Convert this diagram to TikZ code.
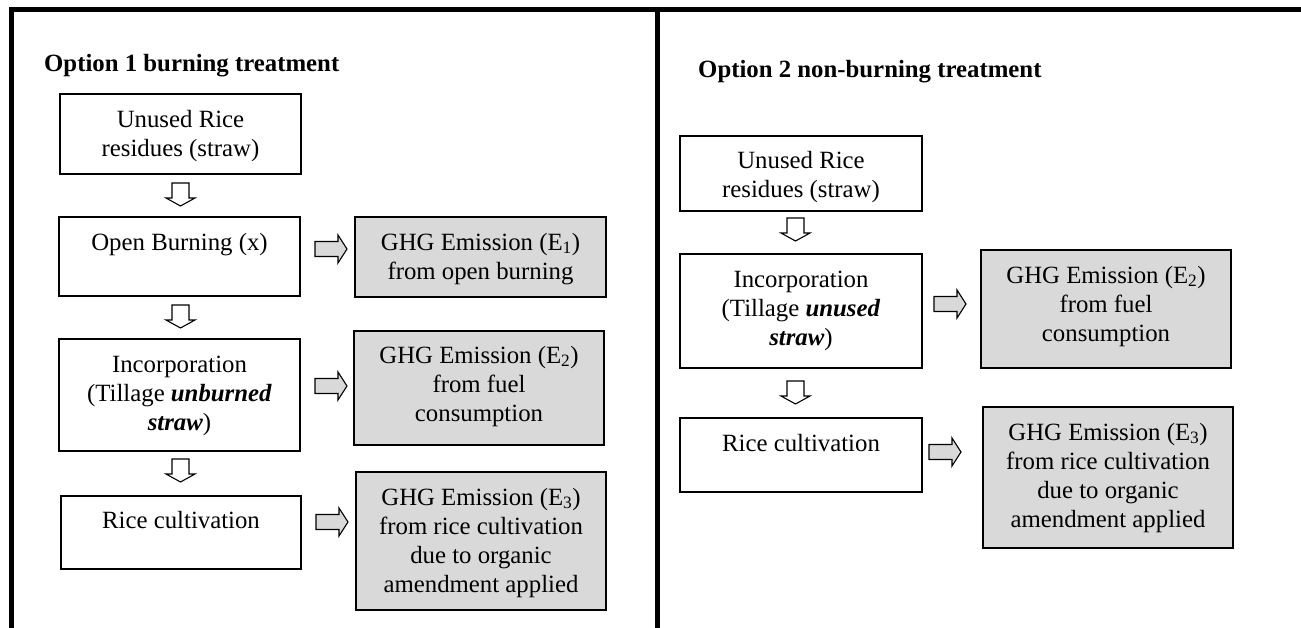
\documentclass[tikz,border=0pt]{standalone}
\usepackage{fontspec}
\setmainfont{Liberation Serif}
\usetikzlibrary{calc}
\definecolor{boxgray}{HTML}{D9D9D9}
\tikzset{
  wbox/.style={draw=black, line width=1.3pt, fill=white, inner sep=0pt, outer sep=0pt},
  gbox/.style={draw=black, line width=1.3pt, fill=boxgray, inner sep=0pt, outer sep=0pt},
  txtnode/.style={anchor=north, inner sep=0pt, align=center, font=\fontsize{24.8}{29}\selectfont},
  ttl/.style={anchor=base west, inner sep=0pt, font=\fontsize{24.8}{29}\selectfont\bfseries},
  dnarrow/.style={draw=black, line width=1.1pt, fill=white, line join=miter},
  rtarrow/.style={draw=black, line width=1.1pt, fill=boxgray, line join=miter},
}
\newcommand\DownArr[1]{\draw[dnarrow] #1 ++(-8.5,0) -- ++(17,0) -- ++(0,15) -- ++(6,0) -- ++(-14.5,8) -- ++(-14.5,-8) -- ++(6,0) -- cycle;}
\newcommand\RightArr[1]{\draw[rtarrow] #1 ++(0,-7.5) -- ++(23,0) -- ++(0,-6.5) -- ++(9,14) -- ++(-9,14) -- ++(0,-6.5) -- ++(-23,0) -- cycle;}
\begin{document}
\begin{tikzpicture}[x=1pt, y=-1pt]
\useasboundingbox (0,0) rectangle (1301,628);
% frame
\draw[line width=5pt] (11.5,628) -- (11.5,9.5) -- (1301,9.5);
\draw[line width=5pt] (657,9.5) -- (657,628);

% titles
\node[ttl] (title1) at (44,72) {Option 1 burning treatment};
\node[ttl] (title2) at (698,78) {Option 2 non-burning treatment};

% left panel boxes
\node[wbox, minimum width=241pt, minimum height=80pt] (b1) at (180.5,134) {};
\node[wbox, minimum width=241pt, minimum height=79pt] (b2) at (179.5,256.5) {};
\node[wbox, minimum width=241pt, minimum height=112pt] (b3) at (179.5,395) {};
\node[wbox, minimum width=240pt, minimum height=73pt] (b4) at (181,532.5) {};
\node[gbox, minimum width=251pt, minimum height=80pt] (e1) at (480.5,257) {};
\node[gbox, minimum width=250pt, minimum height=114pt] (e2) at (479,388) {};
\node[gbox, minimum width=250pt, minimum height=138pt] (e3) at (481,541) {};

\node[txtnode] (tb1) at ($(b1.north)+(0,12.7)$) {\strut Unused Rice\\residues (straw)};
\node[txtnode] (tb2) at ($(b2.north)+(0,12.7)$) {\strut Open Burning (x)};
\node[txtnode] (tb3) at ($(b3.north)+(0,12.7)$) {\strut Incorporation\\(Tillage \textbf{\textit{unburned}}\\\textbf{\textit{straw}})};
\node[txtnode] (tb4) at ($(b4.north)+(0,11.7)$) {\strut Rice cultivation};
\node[txtnode] (te1) at ($(e1.north)+(0,12.7)$) {\strut GHG Emission (E\textsubscript{1})\\from open burning};
\node[txtnode] (te2) at ($(e2.north)+(0,11.7)$) {\strut GHG Emission (E\textsubscript{2})\\from fuel\\consumption};
\node[txtnode] (te3) at ($(e3.north)+(0,12.7)$) {\strut GHG Emission (E\textsubscript{3})\\from rice cultivation\\due to organic\\amendment applied};

\DownArr{($(b1.south)+(0,9)$)}
\DownArr{($(b2.south)+(1,9)$)}
\DownArr{($(b3.south)+(1,8)$)}
\RightArr{($(b2.north east)+(15,32)$)}
\RightArr{($(b3.north east)+(15,47)$)}
\RightArr{($(b4.north east)+(15,26)$)}

% right panel boxes
\node[wbox, minimum width=242pt, minimum height=75pt] (r1) at (801,173.5) {};
\node[wbox, minimum width=242pt, minimum height=114pt] (r2) at (801,311) {};
\node[wbox, minimum width=242pt, minimum height=74pt] (r3) at (801,455) {};
\node[gbox, minimum width=250pt, minimum height=118pt] (f2) at (1106,309) {};
\node[gbox, minimum width=250pt, minimum height=141pt] (f3) at (1108,477.5) {};

\node[txtnode] (tr1) at ($(r1.north)+(0,11.7)$) {\strut Unused Rice\\residues (straw)};
\node[txtnode] (tr2) at ($(r2.north)+(0,12.7)$) {\strut Incorporation\\(Tillage \textbf{\textit{unused}}\\\textbf{\textit{straw}})};
\node[txtnode] (tr3) at ($(r3.north)+(0,12.7)$) {\strut Rice cultivation};
\node[txtnode] (tf2) at ($(f2.north)+(0,12.7)$) {\strut GHG Emission (E\textsubscript{2})\\from fuel\\consumption};
\node[txtnode] (tf3) at ($(f3.north)+(0,12.7)$) {\strut GHG Emission (E\textsubscript{3})\\from rice cultivation\\due to organic\\amendment applied};

\DownArr{($(r1.south)+(-5.5,7)$)}
\DownArr{($(r2.south)+(-5.5,13)$)}
\RightArr{($(r2.north east)+(12,50)$)}
\RightArr{($(r3.north east)+(7,34)$)}
\end{tikzpicture}
\end{document}
